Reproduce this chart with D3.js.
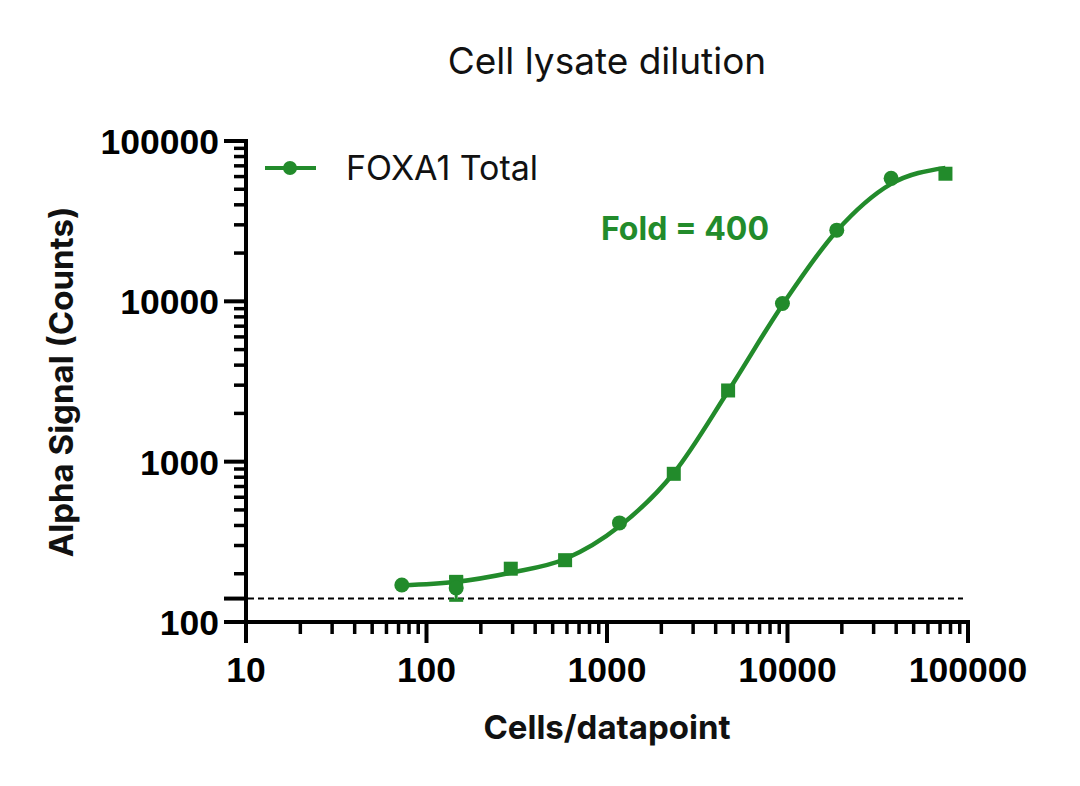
<!DOCTYPE html>
<html><head><meta charset="utf-8">
<script src="https://cdn.jsdelivr.net/npm/d3@7/dist/d3.min.js"></script>
<style>body{margin:0;background:#fff}svg{display:block}</style>
</head><body>
<svg id="c" width="1080" height="786"></svg>
<script>
// ---- data ----
const title = "Cell lysate dilution";
const xLabel = "Cells/datapoint";
const yLabel = "Alpha Signal (Counts)";
const seriesName = "FOXA1 Total";
const foldText = "Fold = 400";
const xTicks = [10, 100, 1000, 10000, 100000];
const yTicks = [100, 1000, 10000, 100000];
const baseline = 140;
// replicate 1 (circles)
const circleCells = [73, 146, 1172, 9375, 18750, 37500];
const circleSignal = [170, 163, 415, 9700, 27800, 58500];
// replicate 2 (squares)
const squareCells = [146, 293, 586, 2344, 4688, 75000];
const squareSignal = [178, 215, 243, 840, 2780, 62500];
// error bar
const errCells = [146];
const errLow = [137];
const errHigh = [190];
// fitted curve samples
const curveCells = [73, 146, 293, 586, 1172, 2344, 4688, 9375, 18750, 37500, 75000];
const curveSignal = [169, 178, 203, 247, 395, 850, 2750, 9500, 27500, 54000, 68000];

const green = "#228b2b";
const svg = d3.select("#c");
const x = d3.scaleLog().domain([10, 100000]).range([246, 968]);
const y = d3.scaleLog().domain([100, 100000]).range([622, 141]);

function minors(lo, hi) {
  const out = [];
  for (let d = lo; d < hi; d *= 10) for (let k = 2; k <= 9; k++) out.push(d * k);
  return out;
}

// x axis
const gx = svg.append("g");
gx.append("line").attr("x1", 246).attr("x2", 968).attr("y1", 622).attr("y2", 622)
  .attr("stroke", "#000").attr("stroke-width", 4);
gx.selectAll(".mn").data(minors(10, 100000)).join("line")
  .attr("x1", d => x(d)).attr("x2", d => x(d)).attr("y1", 622).attr("y2", 634)
  .attr("stroke", "#000").attr("stroke-width", 3.5);
gx.selectAll(".mj").data(xTicks).join("line")
  .attr("x1", d => x(d)).attr("x2", d => x(d)).attr("y1", 620).attr("y2", 643)
  .attr("stroke", "#000").attr("stroke-width", 4);
gx.selectAll("text").data(xTicks).join("text")
  .attr("x", d => x(d)).attr("y", 682).attr("text-anchor", "middle")
  .attr("font-family", "Liberation Sans, Arial, sans-serif").attr("font-weight", "bold")
  .attr("font-size", 35.5).text(d => d);

// y axis
const gy = svg.append("g");
gy.append("line").attr("x1", 246).attr("x2", 246).attr("y1", 139).attr("y2", 624)
  .attr("stroke", "#000").attr("stroke-width", 4);
gy.selectAll(".mn").data(minors(100, 100000)).join("line")
  .attr("x1", 234).attr("x2", 246).attr("y1", d => y(d)).attr("y2", d => y(d))
  .attr("stroke", "#000").attr("stroke-width", 3.5);
gy.selectAll(".mj").data(yTicks).join("line")
  .attr("x1", 224).attr("x2", 248).attr("y1", d => y(d)).attr("y2", d => y(d))
  .attr("stroke", "#000").attr("stroke-width", 4);
gy.append("line").attr("x1", 224).attr("x2", 246).attr("y1", y(baseline)).attr("y2", y(baseline))
  .attr("stroke", "#000").attr("stroke-width", 4);
gy.selectAll("text").data(yTicks).join("text")
  .attr("x", 219).attr("y", d => y(d) + 13).attr("text-anchor", "end")
  .attr("font-family", "Liberation Sans, Arial, sans-serif").attr("font-weight", "bold")
  .attr("font-size", 35.5).text(d => d);

// baseline dashed
svg.append("line").attr("x1", 248).attr("x2", 963).attr("y1", y(baseline)).attr("y2", y(baseline))
  .attr("stroke", "#000").attr("stroke-width", 2).attr("stroke-dasharray", "6,4");

// curve
const line = d3.line().x(d => x(d[0])).y(d => y(d[1])).curve(d3.curveMonotoneX);
svg.append("path").datum(d3.zip(curveCells, curveSignal)).attr("d", line)
  .attr("fill", "none").attr("stroke", green).attr("stroke-width", 4.5);

// error bars
errCells.forEach((c, i) => {
  const cx = x(c);
  svg.append("line").attr("x1", cx).attr("x2", cx).attr("y1", y(errLow[i])).attr("y2", y(errHigh[i]))
    .attr("stroke", green).attr("stroke-width", 3);
  [errLow[i], errHigh[i]].forEach(v => svg.append("line")
    .attr("x1", cx - 7).attr("x2", cx + 7).attr("y1", y(v)).attr("y2", y(v))
    .attr("stroke", green).attr("stroke-width", 3.5));
});

// squares
svg.selectAll(".sq").data(d3.zip(squareCells, squareSignal)).join("rect")
  .attr("x", d => x(d[0]) - 7).attr("y", d => y(d[1]) - 7).attr("width", 14).attr("height", 14)
  .attr("fill", green);
// circles
svg.selectAll(".ci").data(d3.zip(circleCells, circleSignal)).join("circle")
  .attr("cx", d => x(d[0])).attr("cy", d => y(d[1])).attr("r", 7.5).attr("fill", green);

// legend
svg.append("line").attr("x1", 265).attr("x2", 316).attr("y1", 168).attr("y2", 168)
  .attr("stroke", green).attr("stroke-width", 4);
svg.append("circle").attr("cx", 290).attr("cy", 168).attr("r", 7).attr("fill", green);
svg.append("text").attr("x", 346).attr("y", 180).attr("font-family", "Inter, sans-serif")
  .attr("font-size", 34).attr("fill", "#111").text(seriesName);

svg.append("text").attr("x", 601).attr("y", 240).attr("font-family", "Inter, sans-serif")
  .attr("font-weight", "bold").attr("font-size", 32).attr("fill", green).text(foldText);

// titles
svg.append("text").attr("x", 607).attr("y", 74).attr("text-anchor", "middle")
  .attr("font-family", "Inter, sans-serif").attr("font-size", 37).attr("fill", "#111").text(title);
svg.append("text").attr("x", 607).attr("y", 739).attr("text-anchor", "middle")
  .attr("font-family", "Inter, sans-serif").attr("font-weight", "bold").attr("font-size", 33)
  .attr("fill", "#111").text(xLabel);
svg.append("text").attr("transform", "translate(73,382) rotate(-90)").attr("text-anchor", "middle")
  .attr("font-family", "Inter, sans-serif").attr("font-weight", "bold").attr("font-size", 33)
  .attr("fill", "#111").text(yLabel);
</script>
</body></html>
